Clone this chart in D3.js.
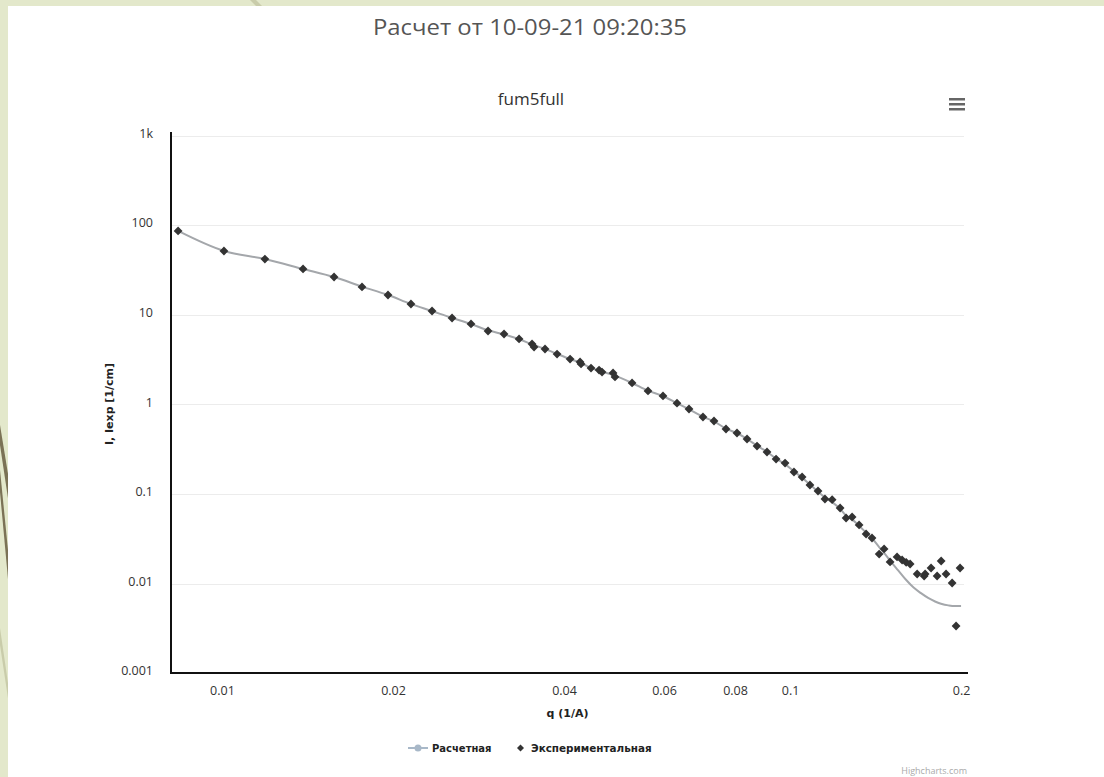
<!DOCTYPE html>
<html>
<head>
<meta charset="utf-8">
<script src="https://cdn.jsdelivr.net/npm/d3@7"></script>
<style>
  html, body { margin: 0; padding: 0; background: #e3e8cb; }
  svg { display: block; }
</style>
</head>
<body>
<svg id="chart" width="1104" height="777"></svg>
<script>
// ---------- data ----------
const chartTitle = "Расчет от 10-09-21 09:20:35";
const chartSubtitle = "fum5full";
const xAxisTitle = "q (1/A)";
const yAxisTitle = "I, Iexp [1/cm]";
const seriesNames = ["Расчетная", "Экспериментальная"];

const xTickValues = [0.01, 0.02, 0.04, 0.06, 0.08, 0.1, 0.2];
const xTickLabels = ["0.01", "0.02", "0.04", "0.06", "0.08", "0.1", "0.2"];
const yTickValues = [0.001, 0.01, 0.1, 1, 10, 100, 1000];
const yTickLabels = ["0.001", "0.01", "0.1", "1", "10", "100", "1k"];

// experimental points
const expQ = [0.00837, 0.01008, 0.0119, 0.01389, 0.01575, 0.01764, 0.0196, 0.02151, 0.02343, 0.02541,
  0.02744, 0.0294, 0.03137, 0.03334, 0.03514, 0.03543, 0.03704, 0.03889, 0.041, 0.04269,
  0.04286, 0.04463, 0.04611, 0.04667, 0.0488, 0.04919, 0.05271, 0.05623, 0.05975, 0.06324,
  0.06639, 0.07026, 0.07347, 0.07713, 0.08065, 0.084, 0.08747, 0.09108, 0.09449, 0.098,
  0.1016, 0.105, 0.1084, 0.112, 0.1152, 0.1186, 0.1225, 0.1255, 0.1286, 0.1323,
  0.1361, 0.1394, 0.1435, 0.1464, 0.15, 0.1543, 0.1575, 0.1601, 0.1627, 0.1674,
  0.1722, 0.1729, 0.1771, 0.1815, 0.1845, 0.1882, 0.1929, 0.196, 0.1992];
const expI = [86, 51.4, 41.8, 32.4, 26.35, 20.4, 16.6, 13.16, 11.0, 9.19,
  7.88, 6.58, 6.09, 5.36, 4.71, 4.36, 4.14, 3.64, 3.2, 2.97,
  2.82, 2.54, 2.41, 2.29, 2.24, 2.02, 1.73, 1.41, 1.24, 1.03,
  0.886, 0.722, 0.651, 0.53, 0.478, 0.41, 0.342, 0.2935, 0.245, 0.221,
  0.1756, 0.1544, 0.1257, 0.1078, 0.0877, 0.0862, 0.0696, 0.0538, 0.0552, 0.045,
  0.0357, 0.0322, 0.0213, 0.0243, 0.0174, 0.0198, 0.0183, 0.01724, 0.0165, 0.01276,
  0.01213, 0.0128, 0.01489, 0.01213, 0.01783, 0.01276, 0.01013, 0.003355, 0.01489];

// calculated curve
const calcQ = [0.00837, 0.01008, 0.0119, 0.01389, 0.01575, 0.01764, 0.0196, 0.0215, 0.0234, 0.0254,
  0.0274, 0.0294, 0.0314, 0.0333, 0.0352, 0.037, 0.0389, 0.041, 0.0428, 0.0446,
  0.0465, 0.049, 0.0527, 0.0562, 0.0598, 0.0632, 0.0664, 0.0703, 0.0735, 0.0771,
  0.0807, 0.084, 0.0875, 0.0911, 0.0945, 0.098, 0.1016, 0.105, 0.1084, 0.112,
  0.1152, 0.1186, 0.1225, 0.1255, 0.1286, 0.1323, 0.1361, 0.1394, 0.1435, 0.1464,
  0.15, 0.155, 0.16, 0.165, 0.17, 0.175, 0.18, 0.185, 0.19, 0.195, 0.2];
const calcI = [86, 51.4, 41.8, 32.4, 26.3, 20.6, 16.6, 13.2, 11.0, 9.2,
  7.9, 6.7, 6.0, 5.35, 4.65, 4.15, 3.65, 3.2, 2.9, 2.55,
  2.33, 2.1, 1.73, 1.42, 1.23, 1.03, 0.88, 0.725, 0.645, 0.535,
  0.475, 0.41, 0.345, 0.295, 0.248, 0.215, 0.178, 0.152, 0.127, 0.106,
  0.091, 0.081, 0.068, 0.057, 0.052, 0.044, 0.037, 0.032, 0.0255, 0.022,
  0.018, 0.014, 0.011, 0.009, 0.0078, 0.0069, 0.0063, 0.0059, 0.0057, 0.0056, 0.0056];

// ---------- drawing ----------
const svg = d3.select("#chart");

// presentation background decorations
const bg = svg.append("g");
bg.append("rect").attr("x", 0).attr("y", 0).attr("width", 1104).attr("height", 777).attr("fill", "#e3e8cb");
bg.append("path").attr("d", "M0,425 L0,445 L9,505 L9,480 Z").attr("fill", "#7b7256");
bg.append("path").attr("d", "M0,470 L0,492 L9,590 L9,560 Z").attr("fill", "#7b7256");
bg.append("path").attr("d", "M0,628 L0,645 L9,705 L9,690 Z").attr("fill", "#c9ccaa");
bg.append("path").attr("d", "M250,0 L256,0 L262,6 L256,6 Z").attr("fill", "#c9ccaa");
bg.append("rect").attr("x", 8).attr("y", 6).attr("width", 1096).attr("height", 771).attr("fill", "#ffffff");

const plot = { left: 171, right: 964, top: 135.5, bottom: 673.1 };

const x = d3.scaleLog().domain([0.008133, 0.2024]).range([plot.left, plot.right]);
const y = d3.scaleLog().domain([0.001, 1000]).range([plot.bottom, plot.top]);

// grid lines
svg.append("g").selectAll("line").data(yTickValues.filter(v => v > 0.001)).join("line")
  .attr("x1", plot.left).attr("x2", plot.right)
  .attr("y1", d => Math.round(y(d)) + 0.5).attr("y2", d => Math.round(y(d)) + 0.5)
  .attr("stroke", "#ececec").attr("stroke-width", 1);

// axes
const xAxis = d3.axisBottom(x).tickValues(xTickValues)
  .tickFormat((d, i) => xTickLabels[i]).tickSize(0).tickPadding(13);
const gx = svg.append("g").attr("transform", `translate(0,${plot.bottom})`).call(xAxis);
gx.select(".domain").remove();
gx.selectAll("text").attr("font-family", "'Open Sans', sans-serif").attr("font-size", 12.5).attr("fill", "#333");

const yAxis = d3.axisLeft(y).tickValues(yTickValues)
  .tickFormat((d, i) => yTickLabels[i]).tickSize(0).tickPadding(18);
const gy = svg.append("g").attr("transform", `translate(${plot.left},0)`).call(yAxis);
gy.select(".domain").remove();
gy.selectAll("text").attr("font-family", "'Open Sans', sans-serif").attr("font-size", 12.5).attr("fill", "#333")
  .attr("dy", "0.15em");

// axis lines
svg.append("line").attr("x1", plot.left).attr("x2", plot.left).attr("y1", 132).attr("y2", plot.bottom + 1)
  .attr("stroke", "#111").attr("stroke-width", 2);
svg.append("line").attr("x1", plot.left - 1).attr("x2", 968).attr("y1", plot.bottom).attr("y2", plot.bottom)
  .attr("stroke", "#111").attr("stroke-width", 2);

// calculated line
const calcData = calcQ.map((q, i) => [q, calcI[i]]);
svg.append("path").datum(calcData)
  .attr("d", d3.line().x(d => x(d[0])).y(d => y(d[1])).curve(d3.curveMonotoneX))
  .attr("fill", "none").attr("stroke", "#a4a7ab").attr("stroke-width", 2);

// experimental diamonds
const expData = expQ.map((q, i) => [q, expI[i]]);
const diamond = (cx, cy, r) => `M${cx},${cy - r}L${cx + r},${cy}L${cx},${cy + r}L${cx - r},${cy}Z`;
svg.append("g").selectAll("path").data(expData).join("path")
  .attr("d", d => diamond(x(d[0]), y(d[1]), 4.4))
  .attr("fill", "#333333");

// titles
svg.append("text").attr("x", 530).attr("y", 35).attr("text-anchor", "middle")
  .attr("font-family", "'Open Sans', sans-serif").attr("font-size", 21).attr("fill", "#555")
  .attr("textLength", 314).attr("lengthAdjust", "spacingAndGlyphs")
  .text(chartTitle);
svg.append("text").attr("x", 531).attr("y", 105).attr("text-anchor", "middle")
  .attr("font-family", "'Open Sans', sans-serif").attr("font-size", 17).attr("fill", "#333")
  .text(chartSubtitle);

// axis titles
svg.append("text").attr("x", (plot.left + plot.right) / 2).attr("y", 717).attr("text-anchor", "middle")
  .attr("font-family", "'DejaVu Sans', sans-serif").attr("font-weight", "bold").attr("font-size", 11).attr("fill", "#222")
  .text(xAxisTitle);
svg.append("text").attr("transform", `translate(113,404) rotate(-90)`).attr("text-anchor", "middle")
  .attr("font-family", "'DejaVu Sans', sans-serif").attr("font-weight", "bold").attr("font-size", 11).attr("fill", "#222")
  .text(yAxisTitle);

// menu icon
svg.append("g").selectAll("rect").data([0, 1, 2]).join("rect")
  .attr("x", 949).attr("y", d => 98 + d * 5).attr("width", 16).attr("height", 2.5)
  .attr("fill", "#666");

// legend
const lg = svg.append("g");
lg.append("line").attr("x1", 408).attr("x2", 428).attr("y1", 748).attr("y2", 748)
  .attr("stroke", "#a8b8c8").attr("stroke-width", 2);
lg.append("circle").attr("cx", 418).attr("cy", 748).attr("r", 3.5).attr("fill", "#a8b8c8");
lg.append("text").attr("x", 432).attr("y", 752)
  .attr("font-family", "'DejaVu Sans', sans-serif").attr("font-weight", "bold").attr("font-size", 10).attr("fill", "#222")
  .text(seriesNames[0]);
lg.append("path").attr("d", diamond(520.5, 748, 3.5)).attr("fill", "#333");
lg.append("text").attr("x", 531).attr("y", 752)
  .attr("font-family", "'DejaVu Sans', sans-serif").attr("font-weight", "bold").attr("font-size", 10.4).attr("fill", "#222")
  .text(seriesNames[1]);

// credits
svg.append("text").attr("x", 967).attr("y", 774).attr("text-anchor", "end")
  .attr("font-family", "'Open Sans', sans-serif").attr("font-size", 9).attr("fill", "#aaa")
  .text("Highcharts.com");
</script>
</body>
</html>
